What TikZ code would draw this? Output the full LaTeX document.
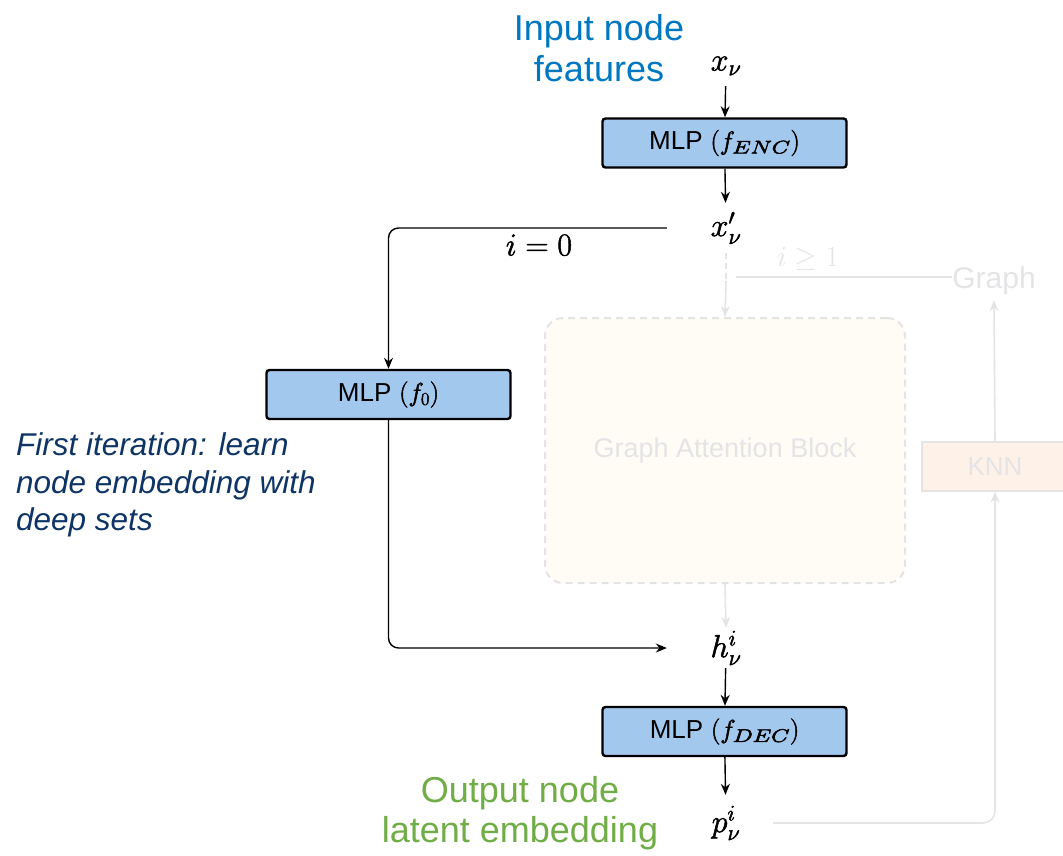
\RequirePackage{fix-cm}
\documentclass[tikz,border=0pt]{standalone}
\usepackage[no-math]{fontspec}
\usepackage{graphicx}
\newfontfamily\arial{Liberation Sans}
\usetikzlibrary{arrows.meta}

\definecolor{inblue}{RGB}{0,120,193}
\definecolor{outgreen}{RGB}{112,173,71}
\definecolor{notenavy}{RGB}{14,52,102}
\definecolor{mlpfill}{RGB}{163,200,238}
\definecolor{fadeline}{RGB}{228,228,228}
\definecolor{fadetext}{RGB}{228,228,230}
\definecolor{gabfill}{RGB}{255,252,245}
\definecolor{knnfill}{RGB}{253,241,232}

% wide subscript used in the MLP labels
\newcommand\bsub[1]{\scalebox{1.3}[1]{$\scriptstyle #1$}}
% slightly heavier glyph outlines for the math symbols
\newcommand\heavy[1]{\special{pdf:literal direct 2 Tr 0.5 w}#1\special{pdf:literal direct 0 Tr}}

\begin{document}
\begin{tikzpicture}[x=1pt,y=-1pt,
  mlp/.style={draw=black, line width=2.4pt, fill=mlpfill, rounded corners=3pt,
    minimum width=244pt, minimum height=49pt, inner sep=0pt,
    font=\fontsize{26}{30}\selectfont},
  var/.style={inner sep=0pt, font=\fontsize{32}{36}\selectfont},
  arr/.style={line width=1.4pt, -{Stealth[length=11pt,width=9pt]}},
  faded/.style={draw=fadeline, line width=1.6pt},
  fadedarr/.style={faded, -{Stealth[length=11pt,width=9pt]}},
  fadedtext/.style={text=fadetext, inner sep=0pt},
]
\useasboundingbox (0,0) rectangle (1063,855);

% ---------- greyed-out iteration path (i >= 1) ----------
\node[draw=fadeline, dash pattern=on 7pt off 5pt, line width=2pt, fill=gabfill,
  rounded corners=18pt, minimum width=360pt, minimum height=265pt,
  text=fadetext, font=\arial\fontsize{27}{32}\selectfont] (gab) at (725,450.5) {Graph Attention Block};
\node[fadedtext, font=\arial\fontsize{30}{34}\selectfont] (graph) at (994,281) {Graph};
\node[draw=fadeline, line width=1.5pt, fill=knnfill, minimum width=146pt, minimum height=49pt,
  text=fadetext, font=\arial\fontsize{26}{30}\selectfont] (knn) at (995,466.5) {KNN};
\node[fadedtext, font=\fontsize{29}{34}\selectfont] (ige) at (808,259) {$i \geq 1$};

% ---------- main nodes ----------
\node[var, minimum width=70pt, minimum height=40pt] (xin) at (726,66) {\heavy{$x_\nu$}};
\node[mlp] (enc) at (724.5,143) {{\arial MLP} \heavy{$(f_{\bsub{ENC}})$}};
\node[var, minimum width=118pt, minimum height=50pt] (xp) at (726,228) {\heavy{$x'_\nu$}};
\node[mlp] (f0) at (388.5,394.5) {{\arial MLP} \heavy{$(f_0)$}};
\node[var] (izero) at (539,245) {\heavy{$i = 0$}};
\node[var, minimum width=118pt, minimum height=40pt] (h) at (726,648) {\heavy{$h^i_\nu$}};
\node[mlp] (dec) at (724.5,731.5) {{\arial MLP} \heavy{$(f_{\bsub{DEC}})$}};
\node[var, minimum width=94pt, minimum height=56pt] (p) at (726,823) {\heavy{$p^i_\nu$}};

% ---------- annotations ----------
\node[align=center, text=inblue, inner sep=0pt, font=\arial\fontsize{36}{41}\selectfont] (inlbl) at (599,48) {Input node\\features};
\node[align=center, text=outgreen, inner sep=0pt, font=\arial\fontsize{36}{40}\selectfont] (outlbl) at (520,813) {Output node\\latent embedding};
\node[align=left, anchor=west, text=notenavy, inner sep=0pt, font=\arial\itshape\fontsize{31.5}{37.5}\selectfont] (note) at (16,485) {First iteration: learn\\node embedding with\\deep sets};

% ---------- greyed-out connectors ----------
\coordinate (split) at (726,281);
\coordinate (gjoin) at (736,277);
\draw[faded, dash pattern=on 6pt off 4pt] (xp.south) -- (split);
\draw[fadedarr] (split) -- (gab.north);
\draw[faded] (gjoin) -- (gjoin -| graph.west);
\draw[fadedarr, shorten >=5pt] (knn.north) -- (graph.south);
\draw[fadedarr] (gab.south) -- (h.north);
\draw[fadedarr, rounded corners=12pt] (p.east) -| (knn.south);

% ---------- main connectors ----------
\draw[arr] (xin) -- (enc);
\draw[arr] (enc) -- (xp);
\draw[arr, rounded corners=10pt] (xp.west) -| (f0.north);
\draw[arr, rounded corners=10pt] (f0.south) |- (h.west);
\draw[arr] (h) -- (dec);
\draw[arr] (dec) -- (p);
\end{tikzpicture}
\end{document}
